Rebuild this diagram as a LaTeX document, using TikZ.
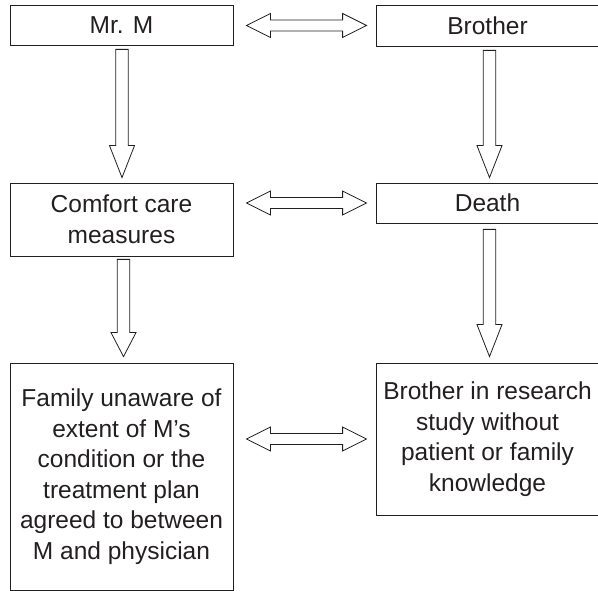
\documentclass[tikz,border=0pt]{standalone}
\usepackage{fontspec}
\setmainfont{Liberation Sans}
\usetikzlibrary{calc}
\definecolor{ink}{HTML}{231F20}
\tikzset{
  box/.style={draw=ink, line width=0.8pt, rectangle, minimum width=223pt, inner sep=0pt,
    align=center, text=ink, font=\fontsize{24.5}{30.5}\selectfont},
  blockarrow/.style={draw=ink, line width=0.8pt, line join=miter, fill=white}
}
\newcommand\hdouble[2]{%
  \coordinate (hL) at ($(#1.east |- #2.west)+(13,0)$);
  \coordinate (hR) at ($(#2.west)+(-9,0)$);
  \draw[blockarrow] (hL) -- ($(hL)+(24,-12)$) -- ($(hL)+(24,-5.5)$) -- ($(hR)+(-24,-5.5)$)
    -- ($(hR)+(-24,-12)$) -- (hR) -- ($(hR)+(-24,12)$) -- ($(hR)+(-24,5.5)$)
    -- ($(hL)+(24,5.5)$) -- ($(hL)+(24,12)$) -- cycle;
}
% #1 from node, #2 to node, #3 head length, #4 top gap, #5 tip gap, #6 x shift
\newcommand\vdown[6]{%
  \coordinate (vT) at ($(#1.south)+(#6,#4)$);
  \coordinate (vP) at ($(#1.south |- #2.north)+(#6,-#5)$);
  \draw[blockarrow] ($(vT)+(-6.3,0)$) -- ($(vT)+(6.3,0)$) -- ($(vP)+(6.3,-#3)$)
    -- ($(vP)+(12.5,-#3)$) -- (vP) -- ($(vP)+(-12.5,-#3)$) -- ($(vP)+(-6.3,-#3)$) -- cycle;
}
\begin{document}
\begin{tikzpicture}[x=1pt,y=-1pt]
\useasboundingbox (0,0) rectangle (598,591);
\clip (0,0) rectangle (598,591);
\node[box, minimum height=40pt] (mrm) at (121.5,25) {Mr. M};
\node[box, minimum height=41pt] (bro) at (487.5,25.5) {Brother};
\node[box, minimum height=73pt] (comfort) at (121.5,219.5) {Comfort care\\measures};
\node[box, minimum height=40pt] (death) at (487.5,203) {Death};
\node[box, minimum height=227pt] (family) at (121.5,476.5) {Family unaware of\\extent of M’s\\condition or the\\treatment plan\\agreed to between\\M and physician};
\node[box, minimum height=152pt] (study) at (487.5,439) {Brother in research\\study without\\patient or family\\knowledge};
\hdouble{mrm}{bro}
\hdouble{comfort}{death}
\hdouble{family}{study}
\vdown{mrm}{comfort}{32}{4}{5}{0.5}
\vdown{bro}{death}{32}{4}{5}{2}
\vdown{comfort}{family}{24}{3}{6}{2}
\vdown{death}{study}{32}{6}{6}{2}
\end{tikzpicture}
\end{document}
